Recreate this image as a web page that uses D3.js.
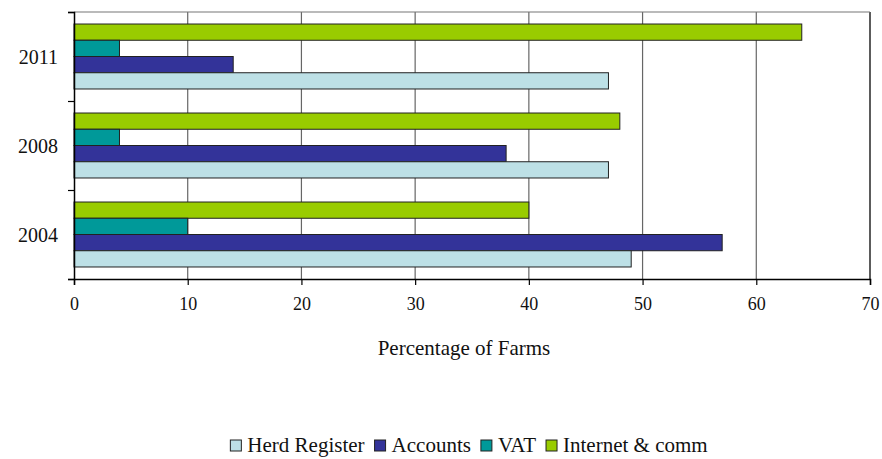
<!DOCTYPE html>
<html>
<head>
<meta charset="utf-8">
<script src="https://cdn.jsdelivr.net/npm/d3@7"></script>
<style>
  body { margin: 0; background: #fff; }
  svg text { font-family: "Liberation Serif", "DejaVu Serif", "Times New Roman", Times, Georgia, serif !important; fill: #111; }
</style>
</head>
<body>
<svg></svg>
<script>
const years = ["2011", "2008", "2004"]
const seriesNames = ["Internet & comm", "VAT", "Accounts", "Herd Register"]
const internet = [64, 48, 40]
const vat = [4, 4, 10]
const accounts = [14, 38, 57]
const herd = [47, 47, 49]
const xTicks = [0, 10, 20, 30, 40, 50, 60, 70]
const legendOrder = ["Herd Register", "Accounts", "VAT", "Internet & comm"]

const colors = {
    "Herd Register": "#bde0e6",
    "Accounts": "#333399",
    "VAT": "#009999",
    "Internet & comm": "#99cc00"
}

const serif = "'Liberation Serif', 'DejaVu Serif', Times, serif"
const svgWidth = 882
const svgHeight = 459
const margins = { top: 12, left: 74 }
const plotWidth = 870 - margins.left
const plotHeight = 279 - margins.top

const svg = d3.select("svg")
    .attr("width", svgWidth)
    .attr("height", svgHeight)
    .attr("font-family", serif)

const values = { "Internet & comm": internet, "VAT": vat, "Accounts": accounts, "Herd Register": herd }
const rows = years.map((y, i) => {
    return { year: y, bars: seriesNames.map((s) => { return { key: s, value: values[s][i] } }) }
})

const xScale = d3.scaleLinear().domain([0, 70]).range([0, plotWidth])
const yScale = d3.scaleBand().domain(years).range([0, plotHeight])
    .paddingInner(0.27).paddingOuter(0.135)
const inner = d3.scaleBand().domain(seriesNames).range([0, yScale.bandwidth()])

const g = svg.append("g").attr("transform", `translate(${margins.left},${margins.top})`)

// gridlines + frame
g.selectAll(".grid")
    .data(xTicks.slice(1))
    .join("line")
    .attr("x1", (d) => xScale(d)).attr("x2", (d) => xScale(d))
    .attr("y1", 0).attr("y2", plotHeight)
    .attr("stroke", (d) => d === 70 ? "#333" : "#666")
    .attr("stroke-width", (d) => d === 70 ? 1.6 : 1.2)
g.append("line")
    .attr("x1", 0).attr("x2", plotWidth).attr("y1", 0).attr("y2", 0)
    .attr("stroke", "#777").attr("stroke-width", 1.2)

// bars
const groups = g.selectAll(".grp")
    .data(rows)
    .join("g")
    .attr("transform", (d) => `translate(0,${yScale(d.year)})`)

groups.selectAll("rect")
    .data((d) => d.bars)
    .join("rect")
    .attr("x", 0)
    .attr("y", (d) => inner(d.key))
    .attr("width", (d) => xScale(d.value))
    .attr("height", inner.bandwidth())
    .attr("fill", (d) => colors[d.key])
    .attr("stroke", "#222")
    .attr("stroke-width", 1)

// axes
const xAxis = g.append("g")
    .attr("transform", `translate(0,${plotHeight})`)
    .call(d3.axisBottom(xScale).tickValues(xTicks).tickSize(6).tickPadding(12))
    .attr("font-family", serif)
xAxis.select(".domain").attr("stroke", "#000").attr("stroke-width", 1.5)
xAxis.selectAll(".tick line").attr("stroke", "#000").attr("stroke-width", 1.2)
xAxis.selectAll("text").attr("font-size", 18).attr("fill", "#111")
    .style("font-family", serif)

const yAxisScale = d3.scaleLinear().domain([0, 3]).range([plotHeight, 0])
const yAxis = g.append("g")
    .call(d3.axisLeft(yAxisScale).ticks(3).tickSize(6).tickFormat(""))
yAxis.select(".domain").attr("stroke", "#000").attr("stroke-width", 1.5)
yAxis.selectAll(".tick line").attr("stroke", "#000").attr("stroke-width", 1.2)

g.selectAll(".ylab")
    .data(years)
    .join("text")
    .attr("x", -16)
    .attr("y", (d) => yScale(d) + yScale.bandwidth() / 2 + 7)
    .attr("text-anchor", "end")
    .attr("font-size", 20)
    .style("font-family", serif)
    .text((d) => d)

svg.append("text")
    .attr("x", 464)
    .attr("y", 355)
    .attr("text-anchor", "middle")
    .attr("font-size", 21)
    .style("font-family", serif)
    .text("Percentage of Farms")

// legend
const legend = svg.append("g").attr("transform", "translate(0,452)")
let cursor = 0
legendOrder.forEach((name) => {
    const item = legend.append("g")
    item.append("rect")
        .attr("x", 0).attr("y", -12).attr("width", 11).attr("height", 11)
        .attr("fill", colors[name]).attr("stroke", "#222").attr("stroke-width", 1)
    const t = item.append("text").attr("x", 17).attr("y", 0).attr("font-size", 21)
        .style("font-family", serif).text(name)
    const w = 17 + t.node().getComputedTextLength()
    item.attr("transform", `translate(${cursor},0)`)
    cursor += w + 10
})
const totalW = cursor - 10
legend.attr("transform", `translate(${469 - totalW / 2},452)`)
</script>
</body>
</html>
